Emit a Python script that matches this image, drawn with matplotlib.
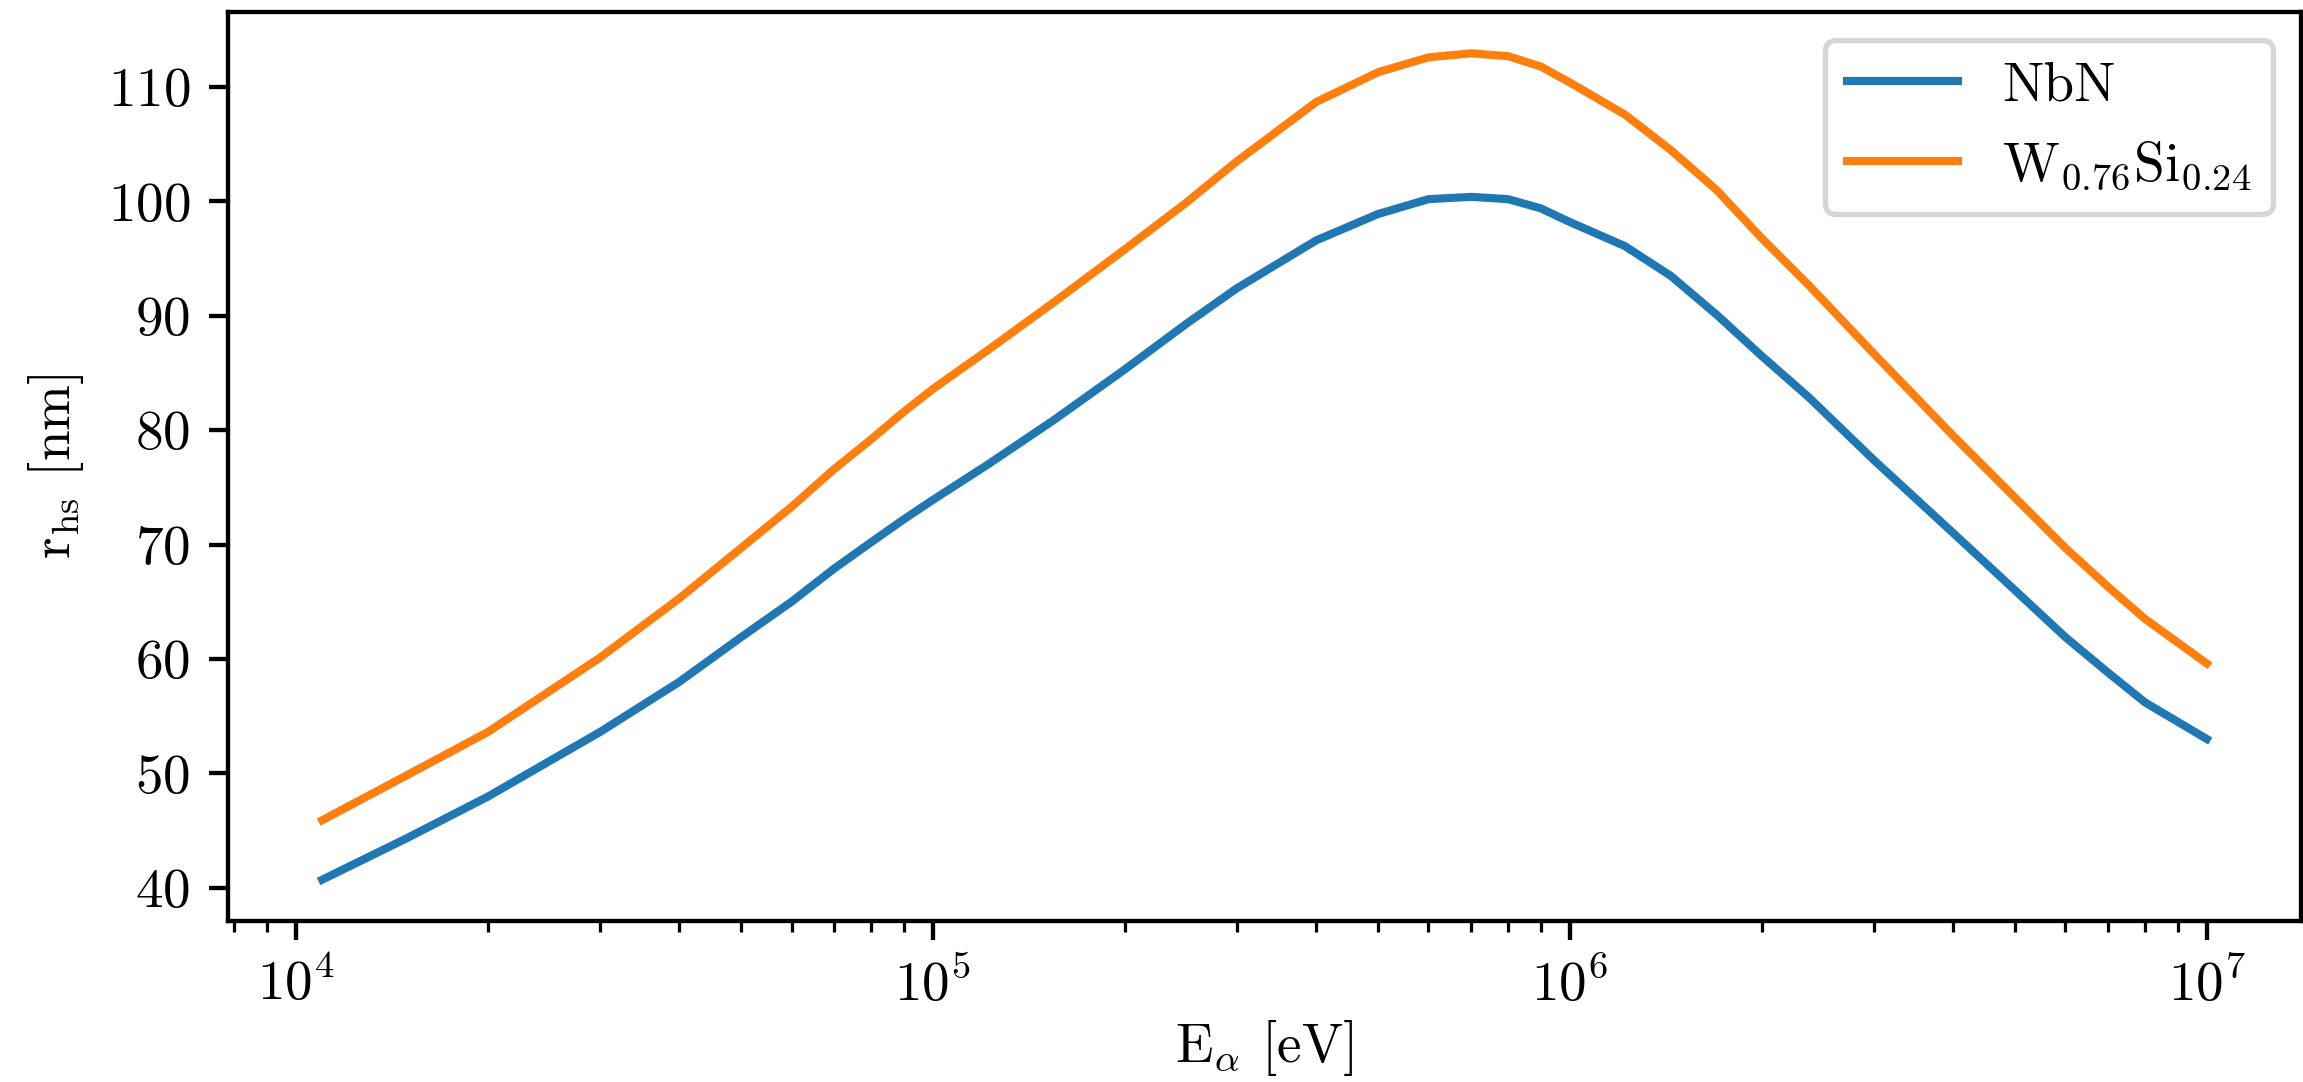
import matplotlib
matplotlib.use("Agg")
import matplotlib.pyplot as plt

plt.rcParams['font.family'] = 'serif'
plt.rcParams['font.serif'] = ['cmr10']
plt.rcParams['mathtext.fontset'] = 'cm'
plt.rcParams['axes.formatter.use_mathtext'] = True
plt.rcParams['axes.unicode_minus'] = False
plt.rcParams['font.size'] = 10.2

energy_eV = [1.1e4, 1.49e4, 2e4, 3e4, 4e4, 5e4, 6e4, 7e4, 8e4, 9e4,
             1e5, 1.22e5, 1.55e5, 2e5, 2.5e5, 3e5, 4e5, 5e5, 6e5, 7e5,
             8e5, 9e5, 1e6, 1.22e6, 1.44e6, 1.7e6, 2e6, 2.37e6, 3e6, 4e6,
             5e6, 6e6, 7e6, 8e6, 1e7]

r_nbn = [40.7, 44.3, 47.95, 53.6, 58.0, 61.9, 65.0, 67.9, 70.2, 72.2,
         73.9, 77.0, 80.9, 85.3, 89.3, 92.4, 96.6, 98.9, 100.2, 100.4,
         100.2, 99.4, 98.2, 96.1, 93.5, 90.1, 86.5, 82.9, 77.4, 71.0,
         66.0, 61.9, 58.8, 56.2, 53.0]

r_wsi = [45.9, 49.8, 53.6, 60.1, 65.3, 69.7, 73.3, 76.6, 79.2, 81.6,
         83.6, 87.0, 91.2, 95.8, 99.9, 103.5, 108.7, 111.3, 112.6, 112.95,
         112.7, 111.8, 110.4, 107.6, 104.5, 101.0, 96.8, 92.7, 86.7, 79.5,
         74.1, 69.7, 66.3, 63.5, 59.6]

labels = ["NbN", r"$\mathrm{W_{0.76}Si_{0.24}}$"]

dpi = 390
fig = plt.figure(figsize=(2303 / dpi, 1082 / dpi), dpi=dpi)
ax = fig.add_axes([228 / 2303, 1 - 921 / 1082, (2301 - 228) / 2303, (921 - 12) / 1082])

ax.plot(energy_eV, r_nbn, color='#1f77b4', lw=1.5, label=labels[0])
ax.plot(energy_eV, r_wsi, color='#ff7f0e', lw=1.5, label=labels[1])
ax.set_xscale('log')
ax.set_yticks([40, 50, 60, 70, 80, 90, 100, 110])

ax.set_xlabel(r"$\mathrm{E}_\alpha$ [eV]", labelpad=1)
ax.set_ylabel(r"$\mathrm{r_{hs}}$ [nm]")
ax.legend(loc='upper right')

fig.savefig("out.png", dpi=dpi)
